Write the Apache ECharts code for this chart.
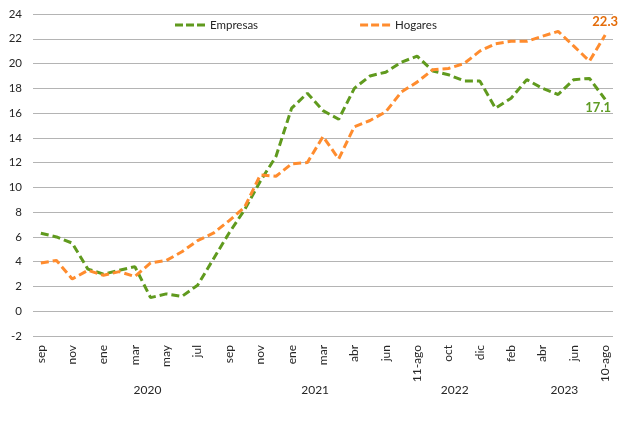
<!DOCTYPE html>
<html>
<head>
<meta charset="utf-8">
<script src="https://cdn.jsdelivr.net/npm/echarts@6/dist/echarts.min.js"></script>
<style>
  html, body { margin: 0; padding: 0; background: #fff; }
  #chart { width: 618px; height: 436px; }
</style>
</head>
<body>
<div id="chart"></div>
<script>
// month tick labels, one every two monthly points
const monthLabels = ['sep', 'nov', 'ene', 'mar', 'may', 'jul', 'sep', 'nov', 'ene', 'mar',
  'abr', 'jun', '11-ago', 'oct', 'dic', 'feb', 'abr', 'jun', '10-ago'];
const yearLabels = ['2020', '2021', '2022', '2023'];
// category index under which each year label is centred
const yearAt = [6.8, 17.5, 26.4, 33.4];

const empresas = [6.3, 6.0, 5.5, 3.4, 3.0, 3.3, 3.6, 1.1, 1.4, 1.2,
  2.1, 4.2, 6.3, 8.2, 10.5, 12.5, 16.4, 17.6, 16.2, 15.5,
  18.0, 19.0, 19.3, 20.1, 20.6, 19.4, 19.1, 18.6, 18.6, 16.4,
  17.2, 18.7, 18.0, 17.5, 18.7, 18.8, 17.1];
const hogares = [3.9, 4.1, 2.6, 3.3, 2.9, 3.2, 2.8, 3.9, 4.1, 4.8,
  5.7, 6.3, 7.3, 8.4, 11.0, 10.9, 11.9, 12.0, 14.1, 12.3,
  14.9, 15.4, 16.1, 17.7, 18.5, 19.5, 19.6, 20.0, 21.0, 21.6,
  21.8, 21.8, 22.2, 22.6, 21.4, 20.2, 22.3];

// build the 37 monthly categories, labelled every other point
const categories = [];
for (let i = 0; i < empresas.length; i++) {
  categories.push(i % 2 === 0 ? monthLabels[i / 2] : '');
}

const GREEN = '#609a1e';
const ORANGE = '#ff8c2e';
const FONT = 'Lato, "Open Sans", sans-serif';
// three short dashes, like the Excel legend key
const DASH_ICON = 'path://M0,0H8V3H0Z M11,0H19V3H11Z M22,0H30V3H22Z';

// label only the last point (symbols are size 0, so nothing else shows)
function withEndLabel(values, label) {
  const last = values.length - 1;
  return values.map((v, i) => i === last ? { value: v, label: label } : v);
}

const chart = echarts.init(document.getElementById('chart'));

const option = {
  animation: false,
  textStyle: { fontFamily: FONT },
  grid: { left: 33, right: 5, top: 14, bottom: 100 },
  legend: {
    top: 14,
    left: 170,
    icon: DASH_ICON,
    itemWidth: 30,
    itemHeight: 3,
    itemGap: 102,
    textStyle: { fontSize: 11.5, color: '#262626', fontFamily: FONT },
    data: ['Empresas', 'Hogares']
  },
  xAxis: {
    type: 'category',
    boundaryGap: true,
    data: categories,
    axisLine: { show: false },
    axisTick: { show: false },
    axisLabel: {
      interval: 0,
      rotate: 90,
      margin: 9,
      fontSize: 12,
      color: '#262626',
      fontFamily: FONT
    }
  },
  yAxis: {
    type: 'value',
    min: -2,
    max: 24,
    interval: 2,
    axisLine: { show: false },
    axisTick: { show: false },
    splitLine: { lineStyle: { color: '#b4b4b4', width: 1 } },
    axisLabel: { margin: 11, fontSize: 11.5, color: '#262626', fontFamily: FONT }
  },
  series: [
    {
      name: 'Empresas',
      type: 'line',
      symbol: 'circle',
      symbolSize: 0,
      showSymbol: true,
      color: GREEN,
      lineStyle: { color: GREEN, width: 3, type: [8, 4] },
      data: withEndLabel(empresas, {
        show: true, position: 'bottom', distance: 2, offset: [-7, 0],
        color: '#5f9b25', fontWeight: 'bold', fontSize: 13, fontFamily: FONT
      })
    },
    {
      name: 'Hogares',
      type: 'line',
      symbol: 'circle',
      symbolSize: 0,
      showSymbol: true,
      color: ORANGE,
      lineStyle: { color: ORANGE, width: 3, type: [8, 4] },
      data: withEndLabel(hogares, {
        show: true, position: 'top', distance: 7, offset: [0, 0],
        color: '#e46c0a', fontWeight: 'bold', fontSize: 13, fontFamily: FONT
      })
    }
  ]
};

chart.setOption(option);

// year row under the month labels
function catToPx(pos) {
  const i0 = Math.floor(pos);
  const x0 = chart.convertToPixel({ xAxisIndex: 0 }, i0);
  const x1 = chart.convertToPixel({ xAxisIndex: 0 }, i0 + 1);
  return x0 + (x1 - x0) * (pos - i0);
}
const baseY = chart.convertToPixel({ yAxisIndex: 0 }, -2);
chart.setOption({
  graphic: yearLabels.map((t, k) => ({
    type: 'text',
    x: catToPx(yearAt[k]),
    y: baseY + 54,
    style: {
      text: t,
      fill: '#262626',
      font: '12px ' + FONT,
      align: 'center',
      verticalAlign: 'middle'
    }
  }))
});
</script>
</body>
</html>
